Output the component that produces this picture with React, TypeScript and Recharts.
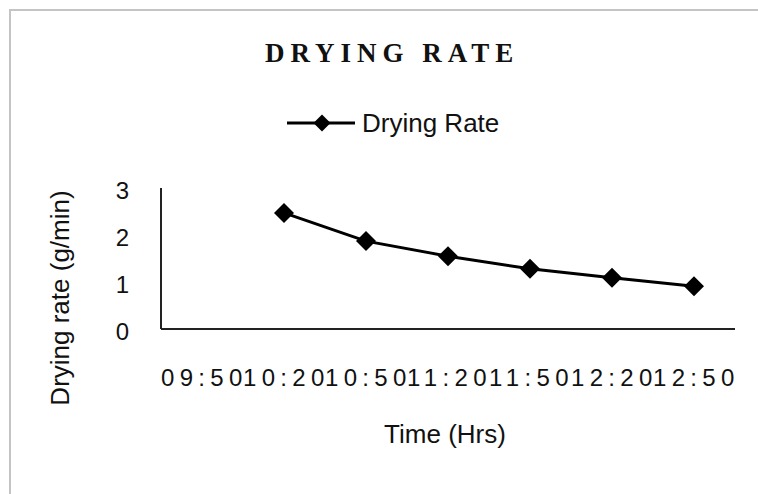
import React from "react";
import { Line, LineChart, XAxis, YAxis } from "recharts";

const times = ["09:50", "10:20", "10:50", "11:20", "11:50", "12:20", "12:50"];
const dryingRate = [null, 2.47, 1.87, 1.55, 1.28, 1.09, 0.91];
const yTicks = [0, 1, 2, 3];

const data = times.map((t, i) => ({ time: t, rate: dryingRate[i] }));

const SANS = "'Liberation Sans', Arial, sans-serif";
const SERIF = "'Liberation Serif', 'Times New Roman', serif";

function Diamond({ cx, cy, r = 10 }: { cx?: number; cy?: number | null; r?: number }) {
  if (cx == null || cy == null || isNaN(cy)) return <g />;
  return <polygon points={`${cx},${cy - r} ${cx + r},${cy} ${cx},${cy + r} ${cx - r},${cy}`} fill="#000" />;
}

const XTick = ({ x, y, payload }: any) => (
  <text x={x - 41} y={y + 57} textAnchor="start" fontFamily={SANS} fontSize={24} letterSpacing={5.3} fill="#111">
    {payload.value}
  </text>
);

const YTick = ({ x, y, payload }: any) => (
  <text x={x} y={y + 10.5} textAnchor="end" fontFamily={SANS} fontSize={24} fill="#111">
    {payload.value}
  </text>
);

export default function App() {
  return (
    <div style={{ position: "fixed", left: 0, top: 0, width: 758, height: 494, background: "#fff", overflow: "hidden" }}>
      <div style={{ position: "absolute", left: 9, top: 9, width: 800, height: 600, borderTop: "2px solid #c4c4c4", borderLeft: "2px solid #c4c4c4" }} />
      <LineChart width={758} height={494} data={data} margin={{ top: 188, right: 23, bottom: 105, left: 101 }}>
        <XAxis
          dataKey="time"
          height={60}
          padding={{ left: 41, right: 41 }}
          tickLine={false}
          tickSize={0}
          tickMargin={0}
          interval={0}
          axisLine={{ stroke: "#222", strokeWidth: 2 }}
          tick={<XTick />}
        />
        <YAxis
          width={60}
          domain={[0, 3]}
          ticks={yTicks}
          tickLine={false}
          tickSize={0}
          tickMargin={32}
          axisLine={{ stroke: "#222", strokeWidth: 2 }}
          tick={<YTick />}
        />
        <Line
          dataKey="rate"
          type="linear"
          stroke="#000"
          strokeWidth={3}
          dot={(p: any) => <Diamond key={p.index} cx={p.cx} cy={p.cy} />}
          activeDot={false}
          isAnimationActive={false}
        />
      </LineChart>
      <svg width={758} height={494} style={{ position: "absolute", left: 0, top: 0, pointerEvents: "none" }}>
        <text x={265} y={62} fontFamily={SERIF} fontWeight="bold" fontSize={27} letterSpacing={6} fill="#111">
          DRYING RATE
        </text>
        <line x1={287} x2={355} y1={123} y2={123} stroke="#000" strokeWidth={3} />
        <Diamond cx={322} cy={123} r={8.5} />
        <text x={362} y={132} fontFamily={SANS} fontSize={26} fill="#111">
          Drying Rate
        </text>
        <text transform="translate(69,298) rotate(-90)" textAnchor="middle" fontFamily={SANS} fontSize={26} fill="#111">
          Drying rate (g/min)
        </text>
        <text x={445} y={443} textAnchor="middle" fontFamily={SANS} fontSize={26} fill="#111">
          Time (Hrs)
        </text>
      </svg>
    </div>
  );
}
